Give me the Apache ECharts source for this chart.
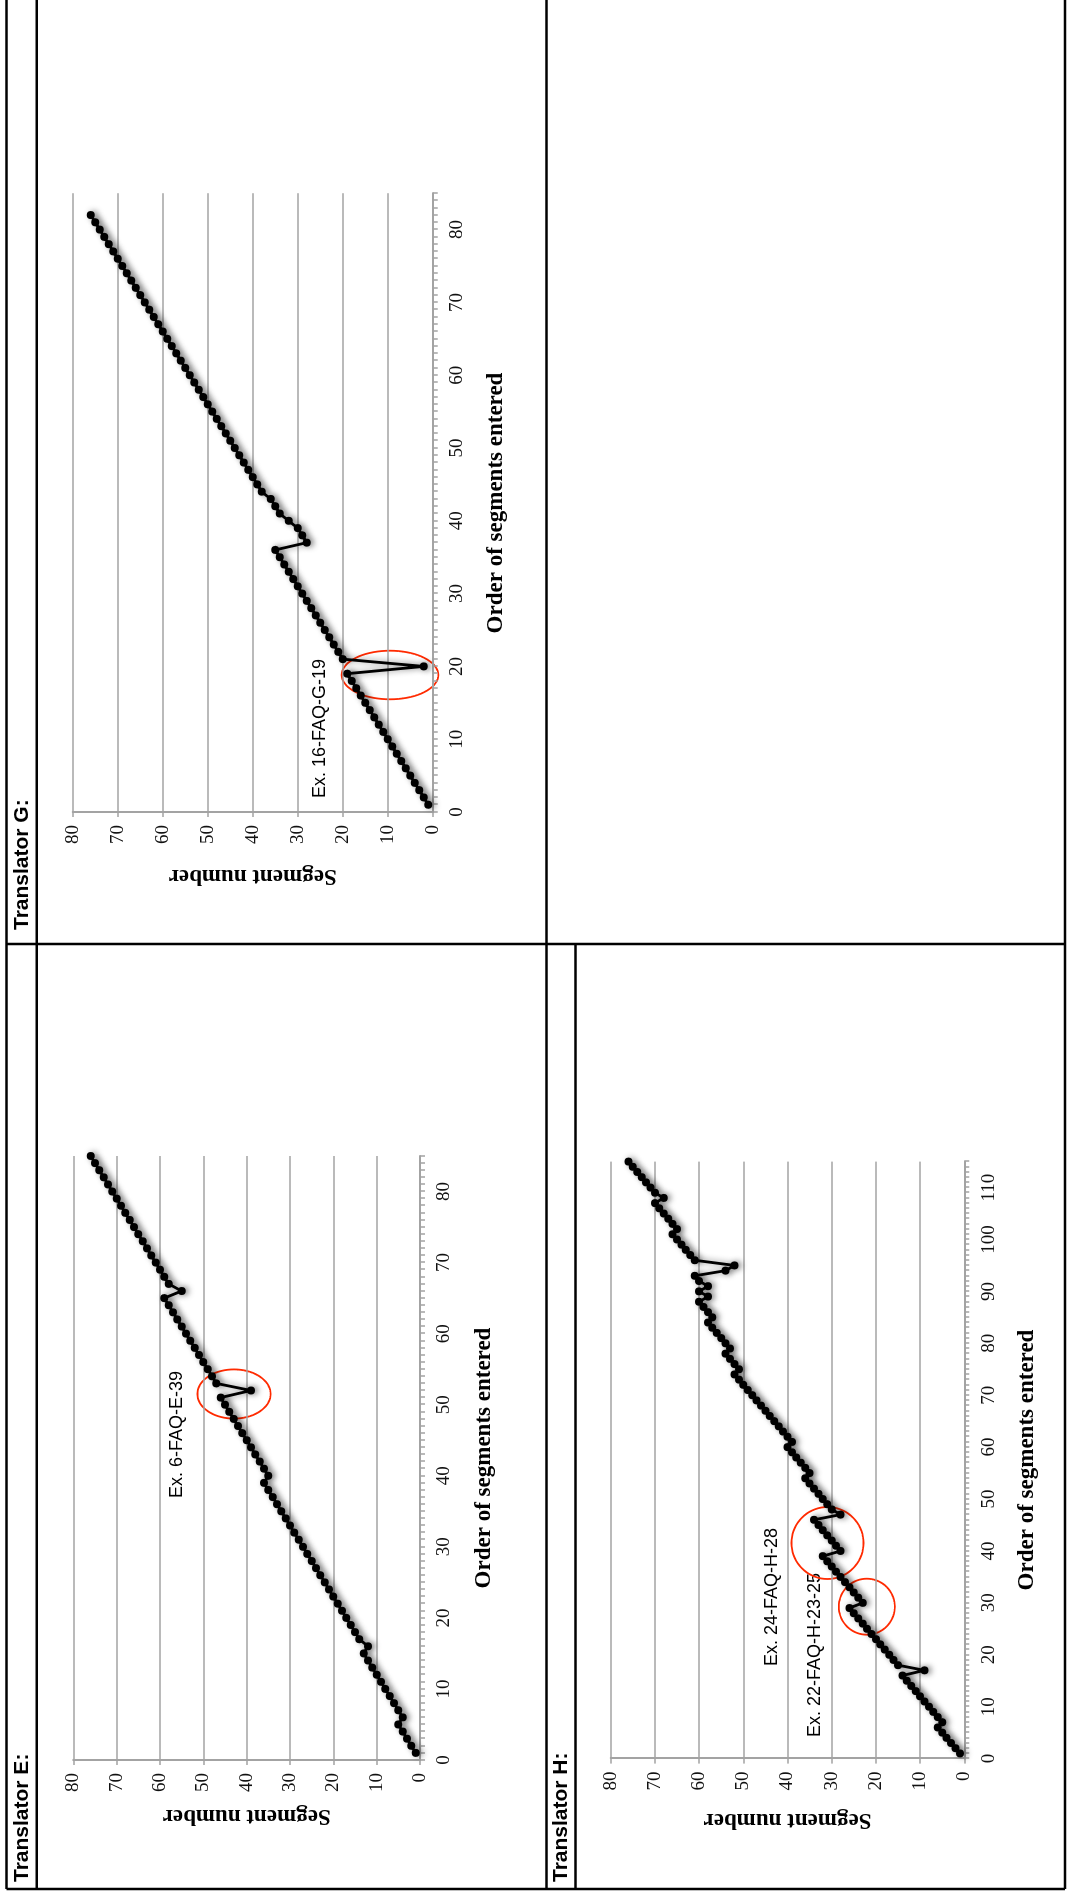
<!DOCTYPE html>
<html>
<head>
<meta charset="utf-8">
<title>Translators - order of segments entered</title>
<script src="https://cdn.jsdelivr.net/npm/echarts@6.0.0/dist/echarts.min.js"></script>
<style>
    html, body { margin: 0; padding: 0; width: 1067px; height: 1892px; overflow: hidden; background: #fff; }
    /* the page is landscape, printed turned a quarter to the left */
    #page {
        position: absolute; left: 0; top: 0;
        width: 1892px; height: 1067px;
        transform-origin: 0 0;
        transform: translateY(1892px) rotate(-90deg);
    }
</style>
</head>
<body>
<div id="page"></div>
<script>
// segment number of each entry, in the order entered (1, 2, 3, ...)
var segE = [1, 2, 3, 4, 5, 4, 5, 6, 7, 8, 9, 10, 11, 12, 13, 12,
    14, 15, 16, 17, 18, 19, 20, 21, 22, 23, 24, 25, 26, 27, 28, 29, 30, 31, 32, 33, 34, 35, 36,
    35, 36, 37, 38, 39, 40, 41, 42, 43, 44, 45, 46, 39,
    47, 48, 49, 50, 51, 52, 53, 54, 55, 56, 57, 58, 59, 55,
    58, 59, 60, 61, 62, 63, 64, 65, 66, 67, 68, 69, 70, 71, 72, 73, 74, 75, 76];

var segG = [1, 2, 3, 4, 5, 6, 7, 8, 9, 10, 11, 12, 13, 14, 15, 16, 17, 18, 19, 2,
    20, 21, 22, 23, 24, 25, 26, 27, 28, 29, 30, 31, 32, 33, 34, 35, 28,
    29, 30, 32, 34, 35, 36, 38, 39,
    40, 41, 42, 43, 44, 45, 46, 47, 48, 49, 50, 51, 52, 53, 54, 55, 56, 57, 58,
    59, 60, 61, 62, 63, 64, 65, 66, 67, 68, 69, 70, 71, 72, 73, 74, 75, 76];

var segH = [1, 2, 3, 4, 5, 6, 5, 6, 7, 8, 9, 10, 11, 12, 13, 14, 9,
    15, 16, 17, 18, 19, 20, 21, 22, 23, 24, 25, 26, 23,
    24, 25, 26, 27, 28, 29, 30, 31, 32, 28,
    29, 30, 31, 32, 33, 34, 28,
    30, 31, 32, 33, 34, 35, 36, 35, 36, 37, 38, 39, 40, 39,
    40, 41, 42, 43, 44, 45, 46, 47, 48, 49, 50, 51, 52, 51,
    52, 53, 54, 53, 54, 55, 56, 57, 58, 57,
    58, 59, 60, 58, 60, 58, 60, 61, 54, 52,
    61, 62, 63, 64, 65, 66, 65, 66, 67, 68, 69, 70, 68,
    70, 71, 72, 73, 74, 75, 76];

var orderMax = [85, 85, 115];
var panelTitles = ['Translator E:', 'Translator G:', 'Translator H:'];
var notes = ['Ex. 6-FAQ-E-39', 'Ex. 16-FAQ-G-19', 'Ex. 24-FAQ-H-28', 'Ex. 22-FAQ-H-23-25'];

var axisGray = '#a3a3a3';
var serif = '"Liberation Serif", "DejaVu Serif", serif';
var sans = '"Liberation Sans", Arial, sans-serif';

function toPairs(segs) {
    return segs.map(function (s, i) { return [i + 1, s]; });
}

function orderAxis(idx) {
    return {
        type: 'value',
        gridIndex: idx,
        min: 0,
        max: orderMax[idx],
        interval: 5,
        axisLine: { show: true, onZero: false, lineStyle: { color: axisGray, width: 2 } },
        axisTick: { show: true, length: 5, lineStyle: { color: axisGray, width: 1.5 } },
        minorTick: { show: true, splitNumber: 5, length: 5, lineStyle: { color: axisGray, width: 1.5 } },
        splitLine: { show: false },
        axisLabel: {
            fontFamily: serif, fontSize: 19, color: '#111', margin: 15,
            formatter: function (v) { return v % 10 === 0 ? String(v) : ''; }
        }
    };
}

function segAxis(idx) {
    return {
        type: 'value',
        gridIndex: idx,
        min: 0,
        max: 80,
        interval: 10,
        axisLine: { show: true, lineStyle: { color: axisGray, width: 2 } },
        axisTick: { show: true, length: 5, lineStyle: { color: axisGray, width: 1.5 } },
        splitLine: { show: true, lineStyle: { color: axisGray, width: 1.5 } },
        axisLabel: { fontFamily: serif, fontSize: 19, color: '#111', margin: 13 }
    };
}

function trail(idx, segs) {
    return {
        type: 'line',
        xAxisIndex: idx,
        yAxisIndex: idx,
        data: toPairs(segs),
        symbol: 'circle',
        symbolSize: 8,
        showAllSymbol: true,
        color: '#000',
        lineStyle: { color: '#000', width: 2.8, shadowColor: 'rgba(0,0,0,0.45)', shadowBlur: 6, shadowOffsetY: 3 },
        itemStyle: { color: '#000', shadowColor: 'rgba(0,0,0,0.45)', shadowBlur: 6, shadowOffsetY: 3 },
        emphasis: { disabled: true },
        animation: false
    };
}

function rule(x1, y1, x2, y2) {
    return { type: 'line', shape: { x1: x1, y1: y1, x2: x2, y2: y2 }, style: { stroke: '#000', lineWidth: 2.5 } };
}

function label(txt, x, y, font, rot, align) {
    return {
        type: 'text', x: x, y: y, rotation: rot || 0,
        style: {
            text: txt, font: font, fill: '#000',
            align: align || 'center', textAlign: align || 'center',
            verticalAlign: 'middle', textVerticalAlign: 'middle'
        }
    };
}

function ring(cx, cy, rx, ry) {
    var pts = [];
    for (var k = 0; k < 72; k++) {
        var a = k / 72 * Math.PI * 2;
        pts.push([cx + rx * Math.cos(a), cy + ry * Math.sin(a)]);
    }
    return { type: 'polygon', shape: { points: pts }, style: { fill: 'none', stroke: '#ff2a00', lineWidth: 1.8 } };
}

var titleFont = 'bold 21px ' + sans;
var axisNameFont = 'bold 23px ' + serif;
var noteFont = '18px ' + sans;

var option = {
    backgroundColor: '#ffffff',
    animation: false,
    grid: [
        { left: 132, top: 73.3, width: 604, height: 346.7, outerBoundsMode: 'none' },
        { left: 1080, top: 72.7, width: 618.8, height: 360, outerBoundsMode: 'none' },
        { left: 133.4, top: 610.7, width: 597, height: 353.6, outerBoundsMode: 'none' }
    ],
    xAxis: [orderAxis(0), orderAxis(1), orderAxis(2)],
    yAxis: [segAxis(0), segAxis(1), segAxis(2)],
    series: [trail(0, segE), trail(1, segG), trail(2, segH)],
    graphic: [
        // table rules
        rule(3, 6.4, 1892, 6.4),
        rule(3, 36.8, 1892, 36.8),
        rule(3, 546.4, 1892, 546.4),
        rule(3, 575.5, 948, 575.5),
        rule(3, 1065, 1892, 1065),
        rule(3, 6.4, 3, 1065),
        rule(948, 6.4, 948, 1065),
        // cell titles
        label(panelTitles[0], 10, 22, titleFont, 0, 'left'),
        label(panelTitles[1], 962, 22, titleFont, 0, 'left'),
        label(panelTitles[2], 10, 561, titleFont, 0, 'left'),
        // axis names
        label('Order of segments entered', 434, 484, axisNameFont),
        label('Order of segments entered', 1389, 496, axisNameFont),
        label('Order of segments entered', 432, 1027, axisNameFont),
        label('Segment number', 76, 246.7, axisNameFont, Math.PI / 2),
        label('Segment number', 1016, 252.7, axisNameFont, Math.PI / 2),
        label('Segment number', 72, 787.5, axisNameFont, Math.PI / 2),
        // notes and rings
        label(notes[0], 394, 177, noteFont, 0, 'left'),
        label(notes[1], 1094, 320, noteFont, 0, 'left'),
        label(notes[2], 226, 772, noteFont, 0, 'left'),
        label(notes[3], 155, 815, noteFont, 0, 'left'),
        ring(498, 234, 24.6, 36.6),
        ring(1217, 390, 24.3, 48.3),
        ring(349, 827.5, 36, 36),
        ring(285.3, 866.8, 28, 28)
    ]
};

var chart = echarts.init(document.getElementById('page'), null, { renderer: 'canvas', width: 1892, height: 1067 });
chart.setOption(option);
</script>
</body>
</html>
